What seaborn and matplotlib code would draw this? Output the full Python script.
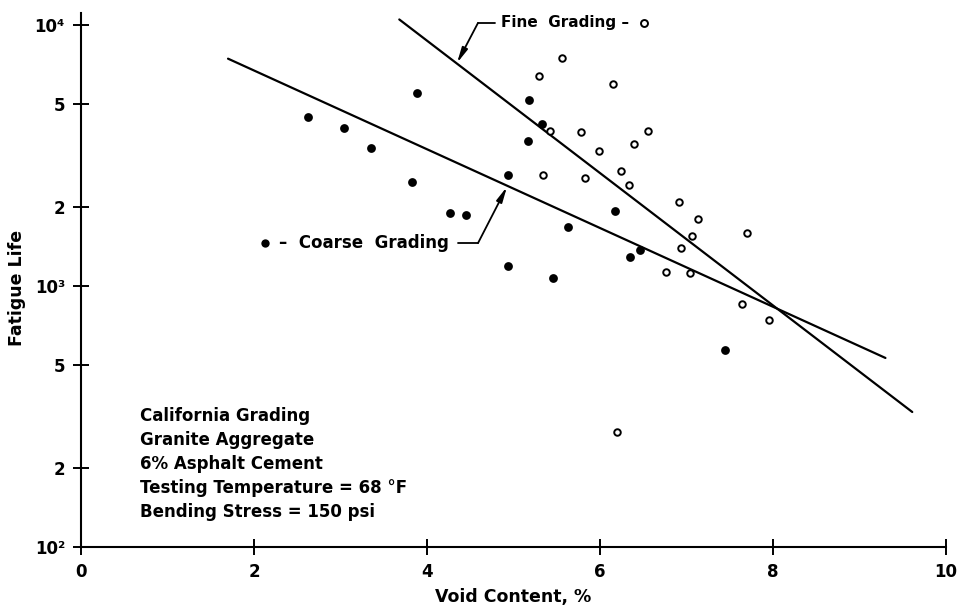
import matplotlib
matplotlib.use("Agg")
import matplotlib.pyplot as plt
import seaborn as sns
import pandas as pd

# ---- data ----
coarse_void = [2.62, 3.04, 3.35, 3.88, 3.83, 4.27, 4.45, 5.18, 5.33, 5.17, 4.94,
               6.17, 5.63, 6.46, 6.35, 4.94, 5.46, 7.44]
coarse_life = [4430, 4020, 3380, 5500, 2500, 1900, 1870, 5170, 4160, 3600, 2660,
               1930, 1690, 1370, 1290, 1190, 1070, 569]
fine_void = [5.56, 5.29, 6.15, 5.42, 5.78, 6.55, 6.39, 5.99, 6.24, 5.34, 5.83,
             6.34, 6.91, 7.13, 7.70, 7.06, 6.94, 6.76, 7.04, 7.64, 7.95, 6.20]
fine_life = [7470, 6400, 5930, 3930, 3890, 3910, 3500, 3280, 2760, 2660, 2590,
             2440, 2100, 1800, 1600, 1550, 1400, 1130, 1120, 855, 741, 276]
coarse_fit_void = [1.70, 9.30]
coarse_fit_life = [7430, 530]
fine_fit_void = [3.68, 9.61]
fine_fit_life = [10500, 329]

x_ticks = [0, 2, 4, 6, 8, 10]
x_tick_labels = ["0", "2", "4", "6", "8", "10"]
y_ticks = [100, 200, 500, 1000, 2000, 5000, 10000]
y_tick_labels = ["10²", "2", "5", "10³", "2", "5", "10⁴"]
info_lines = ["California Grading", "Granite Aggregate", "6% Asphalt Cement",
              "Testing Temperature = 68 °F", "Bending Stress = 150 psi"]

sns.set_style("ticks")
plt.rcParams['font.family'] = ['DejaVu Sans']
plt.rcParams['font.weight'] = 'bold'
plt.rcParams['text.color'] = 'black'

fig = plt.figure(figsize=(9.57, 6.10), dpi=100)
ax = fig.add_axes([0.0846, 0.1033, 0.9039, 0.8754])

coarse = pd.DataFrame({"void": coarse_void, "life": coarse_life})
fine = pd.DataFrame({"void": fine_void, "life": fine_life})

sns.lineplot(x=coarse_fit_void, y=coarse_fit_life, ax=ax, color="black", lw=1.6)
sns.lineplot(x=fine_fit_void, y=fine_fit_life, ax=ax, color="black", lw=1.6)
sns.scatterplot(data=coarse, x="void", y="life", ax=ax, marker="o", s=40,
                color="black", edgecolor="black", linewidth=0, zorder=3)
sns.scatterplot(data=fine, x="void", y="life", ax=ax, marker="o", s=22,
                facecolor="white", edgecolor="black", linewidth=1.4, zorder=3)

ax.set_yscale("log")
ax.set_xlim(0, 10)
ax.set_ylim(100, 10 ** 4.046)
ax.set_xticks(x_ticks)
ax.set_xticklabels(x_tick_labels)
ax.set_yticks(y_ticks)
ax.set_yticklabels(y_tick_labels)
ax.yaxis.set_minor_locator(matplotlib.ticker.NullLocator())
ax.tick_params(axis="both", direction="inout", length=11, width=1.4,
               labelsize=12, pad=6, colors="black")
for lab in ax.get_xticklabels() + ax.get_yticklabels():
    lab.set_fontweight("bold")
ax.spines["top"].set_visible(False)
ax.spines["right"].set_visible(False)
for s in ("left", "bottom"):
    ax.spines[s].set_linewidth(1.5)
    ax.spines[s].set_color("black")

ax.set_xlabel("Void Content, %", fontsize=12.5, fontweight="bold", color="black",
              va="center")
ax.xaxis.set_label_coords(0.50, -0.0936)
ax.set_ylabel("Fatigue Life", fontsize=12.5, fontweight="bold", color="black",
              va="center")
ax.yaxis.set_label_coords(-0.074, 0.485)

# info block
for i, t in enumerate(info_lines):
    ax.text(0.68, 10 ** (2.503 - i * 0.0925), t, fontsize=12, fontweight="bold",
            ha="left", va="center", color="black")

# Fine grading label + leader arrow
ax.text(4.86, 10 ** 4.008, "Fine  Grading –", fontsize=11, fontweight="bold",
        ha="left", va="center", color="black")
ax.plot([6.51], [10 ** 4.008], marker="o", ms=5, mfc="white", mec="black", mew=1.4)
ax.plot([4.786, 4.59], [10 ** 4.008, 10 ** 4.008], color="black", lw=1.3)
ax.annotate("", xy=(4.347, 7150), xytext=(4.59, 10 ** 4.008),
            arrowprops=dict(arrowstyle="-|>,head_length=0.9,head_width=0.18",
                            color="black", lw=1.3, shrinkA=0, shrinkB=0))

# Coarse grading label + leader arrow
ax.plot([2.13], [1460], marker="o", ms=6, color="black", mew=0)
ax.text(2.29, 1460, "–  Coarse  Grading", fontsize=12, fontweight="bold",
        ha="left", va="center", color="black")
ax.plot([4.36, 4.59], [1460, 1460], color="black", lw=1.3)
ax.annotate("", xy=(4.925, 2400), xytext=(4.59, 1460),
            arrowprops=dict(arrowstyle="-|>,head_length=0.9,head_width=0.18",
                            color="black", lw=1.3, shrinkA=0, shrinkB=0))

fig.savefig("out.png", dpi=100)
